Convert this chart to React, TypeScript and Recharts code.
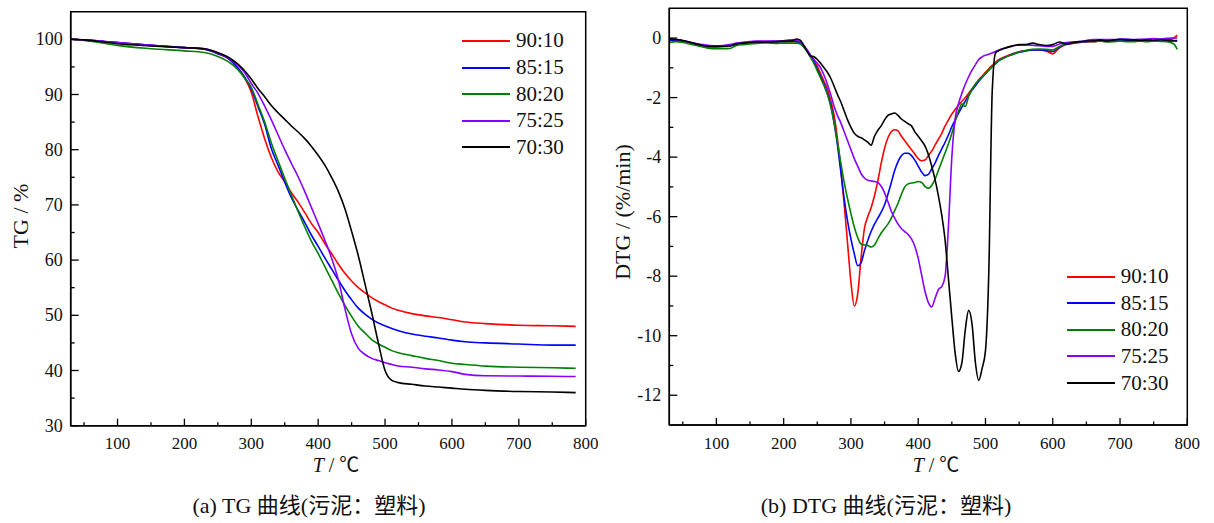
import { Legend, Line, LineChart, ReferenceArea, XAxis, YAxis } from 'recharts'

const serif = "'Liberation Serif', 'Times New Roman', serif"
const cjk = "'Liberation Serif', 'Noto Sans CJK SC', serif"

// series
const seriesKeys = ['s9010', 's8515', 's8020', 's7525', 's7030']
const seriesNames = ['90:10', '85:15', '80:20', '75:25', '70:30']
const seriesColors = ['#ff0000', '#0000ff', '#008000', '#8800ff', '#000000']

// axis ticks
const tempTicks = [50, 100, 150, 200, 250, 300, 350, 400, 450, 500, 550, 600, 650, 700, 750, 800]
const tgTicks = [30, 35, 40, 45, 50, 55, 60, 65, 70, 75, 80, 85, 90, 95, 100]
const dtgTicks = [-12, -11, -10, -9, -8, -7, -6, -5, -4, -3, -2, -1, 0]

// (a) TG curves
const tgTemps = [30, 50, 80, 100, 150, 200, 230, 250, 265, 280, 290, 300, 310, 320, 330, 340, 350, 360, 370, 380, 390, 400, 410, 420, 430, 440, 450, 460, 470, 480, 490, 500, 510, 520, 540, 560, 580, 600, 620, 650, 700, 750, 785]
const tg9010 = [100, 99.9, 99.6, 99.4, 98.9, 98.5, 98.2, 97.4, 96.6, 94.7, 93.0, 90.4, 86.0, 82.0, 78.6, 76.0, 74.2, 72.2, 70.5, 68.6, 66.6, 65.0, 63.0, 61.2, 59.3, 57.6, 56.2, 55.0, 54.1, 53.2, 52.5, 51.9, 51.3, 50.9, 50.3, 49.9, 49.6, 49.2, 48.8, 48.5, 48.2, 48.1, 48.0]
const tg8515 = [100, 99.9, 99.6, 99.4, 98.9, 98.5, 98.2, 97.4, 96.6, 94.8, 93.2, 91.0, 87.8, 84.6, 80.2, 77.2, 74.1, 71.3, 69.0, 66.8, 64.5, 62.5, 60.4, 58.4, 56.4, 54.5, 52.8, 51.3, 50.2, 49.3, 48.6, 48.1, 47.6, 47.2, 46.6, 46.2, 45.9, 45.5, 45.2, 45.0, 44.8, 44.6, 44.6]
const tg8020 = [100, 99.8, 99.3, 98.9, 98.3, 97.9, 97.6, 96.9, 96.0, 94.5, 93.0, 91.3, 88.2, 85.0, 81.2, 78.0, 74.8, 71.8, 68.8, 66.0, 63.4, 61.2, 58.8, 56.4, 54.0, 51.8, 49.8, 48.0, 46.8, 45.6, 44.8, 44.2, 43.6, 43.2, 42.7, 42.2, 41.8, 41.3, 41.1, 40.8, 40.6, 40.5, 40.4]
const tg7525 = [100, 99.9, 99.6, 99.4, 98.9, 98.5, 98.3, 97.5, 96.7, 95.3, 94.0, 92.0, 90.2, 87.9, 85.4, 82.7, 80.0, 77.5, 75.1, 72.4, 69.5, 66.6, 63.6, 60.4, 56.5, 51.2, 46.6, 44.0, 42.9, 42.2, 41.8, 41.4, 41.1, 40.8, 40.6, 40.3, 40.1, 39.8, 39.3, 39.05, 39.0, 38.95, 38.9]
const tg7030 = [100, 99.9, 99.5, 99.2, 98.8, 98.5, 98.3, 97.6, 96.8, 95.5, 94.3, 92.8, 91.1, 89.6, 88.0, 86.7, 85.5, 84.3, 83.2, 82.0, 80.6, 79.0, 77.2, 75.0, 72.5, 69.3, 65.2, 60.8, 55.7, 50.5, 45.0, 40.0, 38.2, 37.8, 37.5, 37.2, 37.0, 36.8, 36.6, 36.4, 36.2, 36.1, 36.0]

// (b) DTG curves
const dtgTemps = [
  30, 40, 50, 60, 70, 80, 90, 100, 110, 120, 130, 140, 150, 160, 170, 180, 190, 200, 210,
  220, 225, 230, 235, 240, 245, 250, 255, 260, 265, 270, 275, 280, 285, 290, 295, 300, 305, 310, 315,
  320, 325, 330, 335, 340, 345, 350, 355, 360, 365, 370, 375, 380, 385, 390, 395, 400, 405, 410, 415,
  420, 425, 430, 435, 440, 445, 450, 455, 460, 465, 470, 475, 480, 485, 490, 495, 500, 505, 510, 515, 520,
  530, 540, 550, 560, 570, 580, 590, 600, 610, 620, 630, 640, 650, 660, 670, 680, 690, 700, 710, 720,
  730, 740, 750, 760, 770, 780, 785,
]
const dtg9010 = [
  -0.05, -0.08, -0.1, -0.15, -0.2, -0.25, -0.3, -0.3, -0.28, -0.25, -0.18, -0.15, -0.13, -0.12, -0.12, -0.12, -0.12, -0.11, -0.12,
  -0.12, -0.18, -0.3, -0.42, -0.58, -0.75, -0.95, -1.2, -1.45, -1.7, -2.1, -2.6, -3.4, -4.4, -5.6, -6.9, -8.2, -9.0, -8.6, -7.4,
  -6.4, -6.0, -5.7, -5.3, -4.8, -4.2, -3.7, -3.35, -3.15, -3.08, -3.12, -3.3, -3.45, -3.6, -3.75, -3.9, -4.05, -4.12, -4.1, -3.95,
  -3.8, -3.6, -3.4, -3.2, -2.95, -2.75, -2.55, -2.4, -2.25, -2.12, -2.0, -1.85, -1.7, -1.55, -1.4, -1.28, -1.15, -1.03, -0.92, -0.82, -0.72,
  -0.62, -0.53, -0.46, -0.42, -0.4, -0.4, -0.43, -0.53, -0.33, -0.22, -0.18, -0.15, -0.12, -0.12, -0.1, -0.11, -0.1, -0.08, -0.1, -0.08,
  -0.08, -0.07, -0.08, -0.06, -0.06, 0.0, 0.1,
]
const dtg8515 = [
  -0.08, -0.06, -0.1, -0.15, -0.2, -0.25, -0.28, -0.28, -0.27, -0.25, -0.2, -0.17, -0.15, -0.13, -0.13, -0.12, -0.12, -0.12, -0.1,
  -0.12, -0.18, -0.3, -0.45, -0.62, -0.8, -1.05, -1.3, -1.55, -1.85, -2.25, -2.85, -3.6, -4.5, -5.4, -6.15, -6.75, -7.25, -7.65, -7.55,
  -7.15, -6.8, -6.5, -6.25, -6.05, -5.85, -5.6, -5.25, -4.85, -4.45, -4.15, -3.95, -3.87, -3.87, -3.95, -4.1, -4.3, -4.5, -4.62, -4.58,
  -4.4, -4.2, -3.95, -3.72, -3.5, -3.25, -2.98, -2.75, -2.52, -2.32, -2.12, -1.93, -1.75, -1.6, -1.45, -1.32, -1.2, -1.08, -0.96, -0.86, -0.76,
  -0.64, -0.55, -0.48, -0.43, -0.4, -0.4, -0.42, -0.45, -0.3, -0.2, -0.17, -0.14, -0.12, -0.1, -0.1, -0.09, -0.1, -0.08, -0.08, -0.08,
  -0.09, -0.07, -0.08, -0.06, -0.06, -0.08, -0.08,
]
const dtg8020 = [
  -0.15, -0.12, -0.15, -0.2, -0.25, -0.3, -0.35, -0.36, -0.36, -0.35, -0.25, -0.22, -0.2, -0.18, -0.16, -0.17, -0.18, -0.17, -0.17,
  -0.17, -0.2, -0.3, -0.45, -0.65, -0.85, -1.1, -1.35, -1.6, -1.9, -2.3, -2.85, -3.5, -4.2, -4.85, -5.4, -5.9, -6.35, -6.7, -6.92,
  -6.95, -6.97, -7.02, -6.95, -6.75, -6.55, -6.4, -6.25, -6.05, -5.8, -5.55, -5.25, -5.0, -4.9, -4.87, -4.85, -4.82, -4.85, -4.98, -5.05,
  -4.95, -4.75, -4.45, -4.15, -3.85, -3.55, -3.2, -2.8, -2.45, -2.22, -2.3, -1.95, -1.72, -1.55, -1.42, -1.3, -1.18, -1.06, -0.95, -0.85, -0.76,
  -0.64, -0.55, -0.47, -0.42, -0.38, -0.37, -0.38, -0.4, -0.28, -0.2, -0.16, -0.13, -0.11, -0.12, -0.1, -0.13, -0.12, -0.1, -0.12, -0.12,
  -0.1, -0.12, -0.1, -0.11, -0.12, -0.2, -0.38,
]
const dtg7525 = [
  -0.02, -0.05, -0.08, -0.13, -0.18, -0.22, -0.25, -0.26, -0.25, -0.22, -0.17, -0.14, -0.12, -0.1, -0.1, -0.1, -0.1, -0.09, -0.06,
  -0.08, -0.12, -0.25, -0.4, -0.58, -0.72, -0.85, -1.0, -1.25, -1.55, -1.9, -2.3, -2.6, -2.85, -3.15, -3.45, -3.75, -4.05, -4.3, -4.55,
  -4.7, -4.78, -4.8, -4.82, -4.85, -4.98, -5.2, -5.5, -5.82, -6.05, -6.25, -6.4, -6.5, -6.6, -6.75, -7.0, -7.4, -7.95, -8.5, -8.88,
  -9.03, -8.75, -8.45, -8.35, -8.0, -6.3, -4.0, -2.7, -2.2, -1.85, -1.55, -1.3, -1.08, -0.9, -0.72, -0.63, -0.58, -0.54, -0.5, -0.45, -0.4,
  -0.33, -0.26, -0.24, -0.23, -0.24, -0.26, -0.28, -0.28, -0.2, -0.15, -0.13, -0.12, -0.08, -0.05, -0.05, -0.05, -0.05, -0.04, -0.03, -0.05,
  -0.04, -0.03, -0.02, -0.03, -0.01, 0.0, 0.0,
]
const dtg7030 = [
  -0.05, -0.05, -0.08, -0.13, -0.2, -0.25, -0.28, -0.28, -0.28, -0.27, -0.2, -0.17, -0.15, -0.13, -0.14, -0.13, -0.12, -0.1, -0.1,
  -0.03, -0.08, -0.25, -0.45, -0.6, -0.63, -0.72, -0.85, -1.0, -1.15, -1.35, -1.62, -1.9, -2.15, -2.45, -2.75, -3.0, -3.2, -3.3, -3.35,
  -3.42, -3.5, -3.6, -3.3, -3.1, -2.95, -2.75, -2.6, -2.55, -2.52, -2.6, -2.72, -2.8, -2.88, -2.95, -3.15, -3.3, -3.45, -3.62, -3.9,
  -4.3, -4.75, -5.3, -5.95, -6.8, -8.1, -9.4, -10.6, -11.2, -10.9, -9.8, -9.15, -9.6, -10.9, -11.5, -11.1, -10.5, -7.8, -1.8, -0.5, -0.42,
  -0.33, -0.27, -0.22, -0.22, -0.17, -0.22, -0.25, -0.22, -0.13, -0.2, -0.15, -0.12, -0.1, -0.1, -0.06, -0.1, -0.07, -0.04, -0.06, -0.06,
  -0.08, -0.06, -0.08, -0.05, -0.08, -0.1, -0.1,
]

const tgSeries = [tg9010, tg8515, tg8020, tg7525, tg7030]
const dtgSeries = [dtg9010, dtg8515, dtg8020, dtg7525, dtg7030]

function buildRows(temps: number[], series: number[][]) {
  return temps.map((t, i) => {
    const row: Record<string, number> = { t }
    seriesKeys.forEach((key, s) => {
      row[key] = series[s][i]
    })
    return row
  })
}

const tgData = buildRows(tgTemps, tgSeries)
const dtgData = buildRows(dtgTemps, dtgSeries)

function BottomTick(props: any) {
  const { x, y, payload } = props
  const major = payload.value % 100 === 0
  return (
    <g>
      <line x1={x} x2={x} y1={y} y2={y - (major ? 7 : 3.5)} stroke="#000" strokeWidth={1.3} />
      {major && (
        <text x={x} y={y + 23.5} textAnchor="middle" fontSize={17} fontFamily={serif} fill="#111">
          {payload.value}
        </text>
      )}
    </g>
  )
}

function makeLeftTick(step: number) {
  return function LeftTick(props: any) {
    const { x, y, payload } = props
    const major = Math.abs(payload.value % step) < 1e-6
    return (
      <g>
        <line x1={x} x2={x + (major ? 8 : 4)} y1={y} y2={y} stroke="#000" strokeWidth={1.3} />
        {major && (
          <text x={x - 8} y={y + 6} textAnchor="end" fontSize={18} fontFamily={serif} fill="#111">
            {payload.value}
          </text>
        )}
      </g>
    )
  }
}

// legend rows in series order, drawn from our own names and colours
function LegendBox() {
  return (
    <div style={{ fontFamily: serif, fontSize: 21, color: '#111' }}>
      {seriesNames.map((name, i) => (
        <div key={name} style={{ display: 'flex', alignItems: 'center', height: 26.6 }}>
          <span style={{ width: 48, height: 0, borderTop: `2px solid ${seriesColors[i]}`, marginRight: 6 }} />
          <span style={{ lineHeight: 1 }}>{name}</span>
        </div>
      ))}
    </div>
  )
}

function seriesLines() {
  return seriesKeys.map((key, i) => (
    <Line
      key={key}
      type="monotone"
      dataKey={key}
      name={seriesNames[i]}
      stroke={seriesColors[i]}
      strokeWidth={1.6}
      dot={false}
      activeDot={false}
      isAnimationActive={false}
    />
  ))
}

const axisLine = { stroke: '#000', strokeWidth: 1.5 }

function TextAt({ x, y, size, rotate, children }: any) {
  return (
    <div
      style={{
        position: 'absolute',
        left: x,
        top: y,
        transform: `translate(-50%, -50%)${rotate ? ' rotate(-90deg)' : ''}`,
        whiteSpace: 'nowrap',
        fontFamily: cjk,
        fontSize: size,
        lineHeight: 1,
        color: '#111',
      }}
    >
      {children}
    </div>
  )
}

export default function App() {
  return (
    <div style={{ position: 'absolute', left: 0, top: 0, width: 1214, height: 523, background: '#fff', overflow: 'hidden' }}>
      <div style={{ position: 'absolute', left: 0, top: 0 }}>
        <LineChart width={600} height={523} data={tgData} margin={{ top: 11.7, right: 14.3, bottom: 96.3, left: 69.7 }}>
          <XAxis
            type="number"
            dataKey="t"
            domain={[30, 800]}
            ticks={tempTicks}
            interval={0}
            allowDataOverflow
            height={1}
            tickSize={0}
            tickMargin={0}
            tickLine={false}
            axisLine={axisLine}
            tick={BottomTick}
          />
          <YAxis
            type="number"
            domain={[30, 105]}
            ticks={tgTicks}
            interval={0}
            allowDataOverflow
            width={1}
            tickSize={0}
            tickMargin={0}
            tickLine={false}
            axisLine={axisLine}
            tick={makeLeftTick(10)}
          />
          <ReferenceArea x1={30} x2={800} y1={30} y2={105} fill="none" stroke="#000" strokeWidth={1.5} />
          {seriesLines()}
          <Legend
            layout="vertical"
            align="center"
            verticalAlign="middle"
            content={<LegendBox />}
            wrapperStyle={{ left: 462, top: 27.7, width: 'auto' }}
          />
        </LineChart>
      </div>

      <div style={{ position: 'absolute', left: 600, top: 0 }}>
        <LineChart width={614} height={523} data={dtgData} margin={{ top: 8.3, right: 26.7, bottom: 97, left: 68.3 }}>
          <XAxis
            type="number"
            dataKey="t"
            domain={[30, 800]}
            ticks={tempTicks}
            interval={0}
            allowDataOverflow
            height={1}
            tickSize={0}
            tickMargin={0}
            tickLine={false}
            axisLine={axisLine}
            tick={BottomTick}
          />
          <YAxis
            type="number"
            domain={[-13, 1]}
            ticks={dtgTicks}
            interval={0}
            allowDataOverflow
            width={1}
            tickSize={0}
            tickMargin={0}
            tickLine={false}
            axisLine={axisLine}
            tick={makeLeftTick(2)}
          />
          <ReferenceArea x1={30} x2={800} y1={-13} y2={1} fill="none" stroke="#000" strokeWidth={1.5} />
          {seriesLines()}
          <Legend
            layout="vertical"
            align="center"
            verticalAlign="middle"
            content={<LegendBox />}
            wrapperStyle={{ left: 466.7, top: 263.4, width: 'auto' }}
          />
        </LineChart>
      </div>

      <TextAt x={21} y={216} size={22} rotate>TG / %</TextAt>
      <TextAt x={623} y={212} size={22} rotate>DTG / (%/min)</TextAt>
      <TextAt x={336} y={465} size={20}><i>T</i> / ℃</TextAt>
      <TextAt x={936} y={465} size={20}><i>T</i> / ℃</TextAt>
      <TextAt x={309} y={506} size={22}>(a) TG 曲线(污泥：塑料)</TextAt>
      <TextAt x={886} y={506} size={22}>(b) DTG 曲线(污泥：塑料)</TextAt>
    </div>
  )
}
